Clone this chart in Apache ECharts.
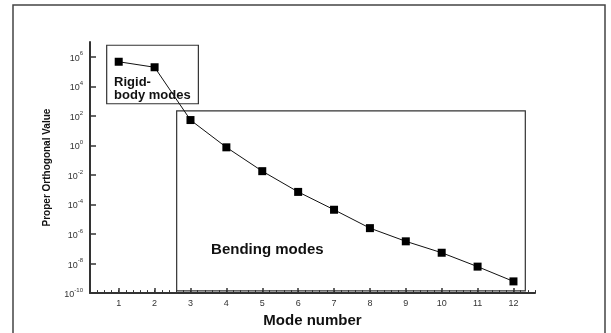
<!DOCTYPE html>
<html><head><meta charset="utf-8">
<script src="https://cdn.jsdelivr.net/npm/echarts@6/dist/echarts.min.js"></script>
<style>html,body{margin:0;padding:0;background:#fff}#c{width:611px;height:333px}</style>
</head><body><div id="c"></div>
<script>
var modes = [1,2,3,4,5,6,7,8,9,10,11,12];
var properOrthogonalValues = [4.6e5, 1.95e5, 52, 0.74, 0.018, 7.1e-4, 4.4e-5, 2.5e-6, 3.2e-7, 5.4e-8, 6.2e-9, 6.2e-10];
var yTickExponents = [-10,-8,-6,-4,-2,0,2,4,6];
var xTickValues = [1,2,3,4,5,6,7,8,9,10,11,12];

var seriesData = modes.map(function(m,i){ return [m, Math.log10(properOrthogonalValues[i])]; });
var font = 'Liberation Sans, Arial, sans-serif';

var chart = echarts.init(document.getElementById('c'), null, {renderer:'canvas'});
chart.setOption({
  animation:false,
  backgroundColor:'#fff',
  graphic:[{type:'rect', shape:{x:13,y:5,width:592,height:340}, style:{fill:null, stroke:'#444', lineWidth:1.5}, z:0}],
  grid:{left:90, right:76, top:42, bottom:38},
  xAxis:[{
    type:'value', min:0.2, max:12.6, position:'bottom',
    name:'Mode number', nameLocation:'middle', nameGap:13,
    nameTextStyle:{fontFamily:font, fontWeight:'bold', fontSize:15, color:'#111'},
    axisLine:{onZero:false, lineStyle:{color:'#333', width:2}},
    axisTick:{inside:true, length:5, customValues:xTickValues, lineStyle:{color:'#333', width:1.5}},
    axisLabel:{customValues:xTickValues, fontFamily:font, fontSize:9, color:'#333', margin:6},
    splitLine:{show:false}
  },{
    type:'value', min:0.2, max:12.6, interval:0.2, position:'bottom',
    axisLine:{show:false, onZero:false},
    axisTick:{inside:true, length:3, lineStyle:{color:'#333', width:1}},
    axisLabel:{show:false}, splitLine:{show:false}
  }],
  yAxis:{
    type:'value', min:-10, max:7,
    name:'Proper Orthogonal Value', nameLocation:'middle', nameGap:38,
    nameTextStyle:{fontFamily:font, fontWeight:'bold', fontSize:10, color:'#111'},
    axisLine:{onZero:false, lineStyle:{color:'#333', width:2}},
    axisTick:{inside:true, length:6, customValues:yTickExponents, lineStyle:{color:'#333', width:1.5}},
    axisLabel:{customValues:yTickExponents, margin:7,
      formatter:function(v){ return '{b|10}{s|' + v + '}'; },
      rich:{b:{fontFamily:font, fontSize:9, color:'#333', lineHeight:12, verticalAlign:'bottom'},
            s:{fontFamily:font, fontSize:6, color:'#333', lineHeight:12, verticalAlign:'top'}}},
    splitLine:{show:false}
  },
  series:[{
    type:'line', data:seriesData, xAxisIndex:0,
    symbol:'rect', symbolSize:8, showSymbol:true,
    lineStyle:{color:'#111', width:1}, itemStyle:{color:'#000'},
    markArea:{
      silent:true,
      itemStyle:{color:'rgba(0,0,0,0)', borderColor:'#333', borderWidth:1.2},
      data:[
        [{xAxis:0.665, yAxis:6.78, label:{show:true, position:[8,31], formatter:'Rigid-\nbody modes',
            fontFamily:font, fontWeight:'bold', fontSize:13, lineHeight:13, color:'#111', align:'left', verticalAlign:'top'}},
         {xAxis:3.22, yAxis:2.82}],
        [{xAxis:2.615, yAxis:2.34, label:{show:true, position:[35,132], formatter:'Bending modes',
            fontFamily:font, fontWeight:'bold', fontSize:15, color:'#111', align:'left', verticalAlign:'top'}},
         {xAxis:12.33, yAxis:-9.85}]
      ]
    }
  }]
});
</script></body></html>
